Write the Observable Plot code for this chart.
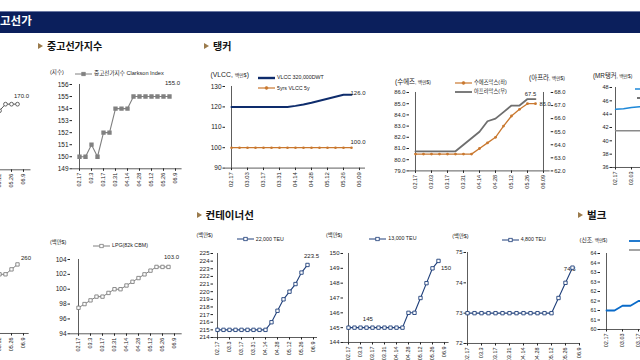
<!DOCTYPE html>
<html><head><meta charset="utf-8">
<script src="https://cdn.jsdelivr.net/npm/d3@7"></script>
<script src="https://cdn.jsdelivr.net/npm/@observablehq/plot@0.6"></script>
<style>
body{margin:0;background:#fff;}
#page{position:relative;width:640px;height:360px;overflow:hidden;background:#fff;font-family:"Liberation Sans",Arial,"Noto Sans CJK KR",sans-serif;color:#222;}
.abs{position:absolute;white-space:nowrap;line-height:1;}
#band{position:absolute;left:0;top:11px;width:640px;height:22px;background:#0b1f5c;border-top:1px solid #6c79a3;box-sizing:border-box;}
.h1{color:#fff;font-weight:bold;font-size:11.5px;font-family:"Noto Sans CJK KR",sans-serif;}
.sec{font-weight:bold;font-size:10px;font-family:"Noto Sans CJK KR",sans-serif;color:#111;display:flex;align-items:center;}
.tri{display:inline-block;width:0;height:0;border-left:5px solid #9b7b4c;border-top:3.5px solid transparent;border-bottom:3.5px solid transparent;margin-right:4px;}
.leg{position:absolute;white-space:nowrap;display:flex;align-items:center;line-height:1;font-family:"Liberation Sans",Arial,"Noto Sans CJK KR",sans-serif;}
.ttl{position:absolute;white-space:nowrap;line-height:1;font-family:"Liberation Sans",Arial,"Noto Sans CJK KR",sans-serif;}
</style></head>
<body>
<div id="page"><div id="band"></div></div>
<script>
// ---------- data ----------
const axisWeeks = ["02.17","02.24","03.03","03.10","03.17","03.24","03.31","04.07","04.14","04.21","04.28","05.05","05.12","05.19","05.26","06.02","06.09"];
const weeks = ["02.17","02.24","03.03","03.10","03.17","03.24","03.31","04.07","04.14","04.21","04.28","05.05","05.12","05.19","05.26","06.02"];
const tickWeeks = ["02.17","03.03","03.17","03.31","04.14","04.28","05.12","05.26","06.09"];
const tickShort = ["02.17","03.3","03.17","03.31","04.14","04.28","05.12","05.26","06.9"];
const tickLong  = ["02.17","03.03","03.17","03.31","04.14","04.28","05.12","05.26","06.09"];
const tickTail  = ["05.12","05.26","06.09"];   // visible part of the cut-off left charts
const tickMr    = ["02.17","03.03"];           // visible part of the MR chart
const tickBulk  = ["02.17","03.03","03.17"];   // visible part of the bulk chart

const newbuildIdx = [161,161,162,162,163,163,164,165,165,166,167,168,169,170,170,170];
const clarkson    = [150,150,151,150,152,152,154,154,154,155,155,155,155,155,155,155];
const vlcc320     = [120,120,120,120,120,120,120,120,120.5,121.2,122,123,124,125,126,126];
const vlcc5y      = [100,100,100,100,100,100,100,100,100,100,100,100,100,100,100,100];
const suezmax     = [80.5,80.5,80.5,80.5,80.5,80.5,80.5,80.5,81,81.5,82,83,83.9,84.5,85,85];
const aframax     = [63.5,63.5,63.5,63.5,63.5,63.5,64,64.5,65,65.8,66,66.5,67,67,67.5,67.5];
const mrBlue      = [44.75,44.8,45,45.1,45.2,45.3,45.5,45.8,46,46.3,46.5,46.8,47,47,47.2,47.5];
const mrGray      = [41.5,41.5,41.5,41.5,41.5,41.5,41.5,42,42,42.5,42.5,43,43,43.5,43.5,43.5];
const newbuildLng = [215,218,220,222,225,228,232,235,238,242,246,250,250,250,255,260];
const lpg         = [97.5,98,98.5,99,99,99.5,100,100,100.5,101,101.5,102,102.5,103,103,103];
const teu22000    = [215,215,215,215,215,215,215,215,215,216,217.5,219,220,221,222.5,223.5];
const teu13000    = [145,145,145,145,145,145,145,145,145,145,146,146,147,148,149,149.5];
const teu4800     = [73,73,73,73,73,73,73,73,73,73,73,73,73,73.5,74,74.5];
const bulkBlue    = [61,61,61.25,61.25,61.5,61.5,61.75,62,62,62.25,62.5,62.75,63,63.25,63.5,63.5];

const ticksClk   = [149,150,151,152,153,154,155,156];
const ticksVlcc  = [90,100,110,120,130];
const ticksSuez  = [79,80,81,82,83,84,85,86];
const ticksAfra  = [62,63,64,65,66,67,68];
const ticksMr    = [36,38,40,42,44,46,48];
const ticksLpg   = [94,96,98,100,102,104];
const ticks22k   = [214,215,216,217,218,219,220,221,222,223,224,225];
const ticks13k   = [144,145,146,147,148,149,150];
const ticks4800  = [72,73,74,75];
const ticksBulk  = [60,60.5,61,61.5,62,62.5,63,63.5,64];

const names = {
  clarkson: "중고선가지수 Clarkson Index",
  vlcc320: "VLCC 320,000DWT", vlcc5y: "5yrs VLCC 5y",
  suez: "수에즈막스(좌)", afra: "아프라막스(우)",
  lpg: "LPG(82k CBM)", t22: "22,000 TEU", t13: "13,000 TEU", t48: "4,800 TEU"
};

// ---------- helpers ----------
const page = document.getElementById("page");
const FONT = '"Liberation Sans", Arial, "Noto Sans CJK KR", sans-serif';
const rows = vals => vals.map((v, i) => ({w: weeks[i], v}));
const at = (vals, i, t) => [{w: weeks[i], v: vals[i], t}];

function chart(o) {
  const ml = 30, mr = 26, mt = 14, mb = 32;
  const width = (o.x1 - o.x0) + ml + mr, height = (o.y1 - o.y0) + mt + mb;
  const marks = [];
  if (o.xAxis !== false) {
    marks.push(Plot.axisX({ticks: o.ticks ?? tickWeeks, tickFormat: d => o.tickLabels[tickWeeks.indexOf(d)],
      tickRotate: -90, tickSize: 2.5, tickPadding: 1.5, fontSize: o.fx ?? 5.5, label: null}));
    marks.push(Plot.ruleY([o.yDomain[0]], {stroke: "#333", strokeWidth: 0.8}));
  }
  const right = o.anchor === "right";
  if (o.yAxis !== false) {
    marks.push(Plot.axisY({anchor: right ? "right" : "left", ticks: o.yTicks, tickFormat: o.yFmt ?? "d",
      tickSize: 2.5, tickPadding: 1.5, fontSize: o.fy ?? 6.5, label: null}));
    marks.push(Plot.ruleX([right ? axisWeeks[16] : axisWeeks[0]], {stroke: "#333", strokeWidth: 0.8}));
  }
  marks.push(...o.marks);
  const svg = Plot.plot({
    width, height, marginLeft: ml, marginRight: mr, marginTop: mt, marginBottom: mb,
    x: {type: "point", domain: axisWeeks, padding: 0, axis: o.xAxis === false ? null : undefined},
    y: {domain: o.yDomain, axis: o.yAxis === false ? null : undefined},
    style: {background: "transparent", overflow: "visible", fontFamily: FONT, color: "#222"},
    marks
  });
  svg.style.position = "absolute";
  svg.style.left = (o.x0 - ml) + "px";
  svg.style.top = (o.y0 - mt) + "px";
  page.appendChild(svg);
}
function heading(x, y, text, fs) {
  const d = document.createElement("div");
  d.className = "abs sec"; d.style.left = x + "px"; d.style.top = (y - 7) + "px"; d.style.height = "14px";
  if (fs) d.style.fontSize = fs + "px";
  d.innerHTML = `<span class="tri"></span><span>${text}</span>`;
  page.appendChild(d);
}
function title(x, y, html, fs) {
  const d = document.createElement("div");
  d.className = "ttl"; d.style.left = x + "px"; d.style.top = (y - fs / 2 - 1) + "px"; d.style.fontSize = fs + "px";
  d.innerHTML = html; page.appendChild(d);
}
function legend(x, y, o) {
  const d = document.createElement("div");
  const sw = o.sw || 17;
  d.className = "leg"; d.style.left = x + "px"; d.style.top = (y - 4) + "px"; d.style.height = "8px";
  d.style.fontSize = (o.fs || 5.5) + "px";
  let mk = "";
  if (o.marker === "square") mk = `<rect x="${sw/2-1.7}" y="2.3" width="3.4" height="3.4" fill="${o.mfill || o.color}" stroke="${o.color}" stroke-width="0.8"/>`;
  if (o.marker === "circle") mk = `<circle cx="${sw/2}" cy="4" r="1.4" fill="${o.mfill || o.color}" stroke="${o.color}" stroke-width="0.7"/>`;
  d.innerHTML = `<svg width="${sw}" height="8" style="flex:none"><line x1="0" x2="${sw}" y1="4" y2="4" stroke="${o.color}" stroke-width="${o.lw || 1}"/>${mk}</svg>` +
    (o.text ? `<span style="margin-left:2px">${o.text}</span>` : "");
  page.appendChild(d);
}

// ---------- colours ----------
const GRAY = "#808080", DGRAY = "#555", NAVY = "#0e2c6c", CNAVY = "#1f3f7a", ORANGE = "#c9782f",
      AGRAY = "#6e6e6e", BLUE = "#1e88d8", BBLUE = "#0a6bc9";

// ---------- header ----------
const h = document.createElement("div");
h.className = "abs h1"; h.style.left = "0px"; h.style.top = "15px"; h.textContent = "고선가";
page.appendChild(h);
heading(38, 45.5, "중고선가지수");
heading(204, 45.5, "탱커");
heading(196.5, 215, "컨테이너선", 10.5);
heading(578, 215, "벌크", 10.5);

// ---------- top row ----------
chart({x0: -80, x1: 30.5, y0: 84, y1: 169.3, yDomain: [160, 173], yAxis: false, ticks: tickTail, tickLabels: tickShort,
  marks: [
    Plot.line(rows(newbuildIdx), {x: "w", y: "v", stroke: DGRAY, strokeWidth: 1}),
    Plot.dot(rows(newbuildIdx), {x: "w", y: "v", r: 1.9, fill: "white", stroke: DGRAY, strokeWidth: 0.9}),
    Plot.text(at(newbuildIdx, 15, "170.0"), {x: "w", y: "v", text: "t", dx: 4, dy: -8, fontSize: 6})
  ]});

chart({x0: 71.7, x1: 181.3, y0: 84, y1: 168.3, yDomain: [149, 156], yTicks: ticksClk, tickLabels: tickShort, fy: 6.5,
  marks: [
    Plot.line(rows(clarkson), {x: "w", y: "v", stroke: GRAY, strokeWidth: 1.1}),
    Plot.dot(rows(clarkson), {x: "w", y: "v", symbol: "square", r: 1.6, fill: GRAY, stroke: GRAY}),
    Plot.text(at(clarkson, 15, "155.0"), {x: "w", y: "v", text: "t", dx: 3, dy: -13, fontSize: 6})
  ]});
title(50, 73.5, "(지수)", 5.5);
legend(75, 74, {color: GRAY, marker: "square", text: names.clarkson, fs: 5.6});

chart({x0: 225, x1: 365, y0: 85.7, y1: 167.3, yDomain: [90, 130], yTicks: ticksVlcc, tickLabels: tickLong, fx: 6,
  marks: [
    Plot.line(rows(vlcc5y), {x: "w", y: "v", stroke: ORANGE, strokeWidth: 1.2}),
    Plot.dot(rows(vlcc5y), {x: "w", y: "v", r: 1.3, fill: ORANGE}),
    Plot.line(rows(vlcc320), {x: "w", y: "v", stroke: NAVY, strokeWidth: 2}),
    Plot.text(at(vlcc320, 15, "126.0"), {x: "w", y: "v", text: "t", textAnchor: "start", dx: -1, dy: -1.5, fontSize: 6}),
    Plot.text(at(vlcc5y, 15, "100.0"), {x: "w", y: "v", text: "t", textAnchor: "start", dx: -1, dy: -6, fontSize: 6})
  ]});
title(210.5, 76.7, `(VLCC, <span style="font-size:5px">백만$</span>)`, 6.8);
legend(258, 77.5, {color: NAVY, lw: 2.4, text: names.vlcc320, fs: 5.3});
legend(258, 88.3, {color: ORANGE, lw: 1.2, marker: "circle", text: names.vlcc5y, fs: 5.3});

chart({x0: 409.3, x1: 550, y0: 92.3, y1: 170.7, yDomain: [79, 86], yTicks: ticksSuez, yFmt: ".1f", tickLabels: tickLong, fy: 5.8,
  marks: [
    Plot.line(rows(suezmax), {x: "w", y: "v", stroke: ORANGE, strokeWidth: 1.3}),
    Plot.dot(rows(suezmax), {x: "w", y: "v", r: 1.4, fill: ORANGE}),
    Plot.text(at(suezmax, 15, "85.0"), {x: "w", y: "v", text: "t", textAnchor: "start", dx: 4, dy: 0, fontSize: 5.8})
  ]});
chart({x0: 409.3, x1: 550, y0: 92.3, y1: 170.7, yDomain: [62, 68], yTicks: ticksAfra, yFmt: ".1f", anchor: "right", xAxis: false, fy: 5.8,
  marks: [
    Plot.line(rows(aframax), {x: "w", y: "v", stroke: AGRAY, strokeWidth: 1.8}),
    Plot.text(at(aframax, 15, "67.5"), {x: "w", y: "v", text: "t", dx: -5, dy: -4.5, fontSize: 5.8})
  ]});
title(395, 83.5, `(수에즈<span style="font-size:4.8px">, 백만$)</span>`, 6.5);
title(529, 79, `(아프라<span style="font-size:4.8px">, 백만$)</span>`, 6.5);
legend(455, 82.7, {color: ORANGE, lw: 1.2, marker: "circle", text: names.suez, fs: 5.3});
legend(455, 91.7, {color: AGRAY, lw: 1.8, text: names.afra, fs: 5.3});

chart({x0: 611.7, x1: 745, y0: 86.7, y1: 166.7, yDomain: [36, 48], yTicks: ticksMr, ticks: tickMr, tickLabels: tickLong, fy: 5.5,
  marks: [
    Plot.line(rows(mrGray), {x: "w", y: "v", stroke: "#8a8a8a", strokeWidth: 1.5}),
    Plot.line(rows(mrBlue), {x: "w", y: "v", stroke: BLUE, strokeWidth: 1.5})
  ]});
title(593, 77.5, `(MR탱커<span style="font-size:4.8px">, 백만$)</span>`, 6.3);
legend(635, 89, {color: BLUE, lw: 1.5, sw: 12});
legend(637, 98, {color: "#444", lw: 1.5, sw: 12});

// ---------- bottom row ----------
chart({x0: -78.4, x1: 28.3, y0: 259, y1: 333, yDomain: [190, 265], yAxis: false, ticks: tickTail, tickLabels: tickShort,
  marks: [
    Plot.line(rows(newbuildLng), {x: "w", y: "v", stroke: GRAY, strokeWidth: 1}),
    Plot.dot(rows(newbuildLng), {x: "w", y: "v", symbol: "square", r: 1.9, fill: "white", stroke: GRAY, strokeWidth: 0.9}),
    Plot.text(at(newbuildLng, 15, "260"), {x: "w", y: "v", text: "t", textAnchor: "start", dx: 3.5, dy: -6, fontSize: 6})
  ]});

chart({x0: 70, x1: 181.7, y0: 259, y1: 333.3, yDomain: [94, 104], yTicks: ticksLpg, tickLabels: tickShort,
  marks: [
    Plot.line(rows(lpg), {x: "w", y: "v", stroke: GRAY, strokeWidth: 1}),
    Plot.dot(rows(lpg), {x: "w", y: "v", symbol: "square", r: 1.9, fill: "white", stroke: GRAY, strokeWidth: 0.9}),
    Plot.text(at(lpg, 15, "103.0"), {x: "w", y: "v", text: "t", dx: 3, dy: -10, fontSize: 6})
  ]});
title(50, 243.5, "(백만$)", 5.3);
legend(93, 245.7, {color: GRAY, marker: "square", mfill: "white", text: names.lpg, fs: 5.3});

chart({x0: 212.7, x1: 316.7, y0: 252.7, y1: 336.7, yDomain: [214, 225], yTicks: ticks22k, tickLabels: tickShort, fy: 6,
  marks: [
    Plot.line(rows(teu22000), {x: "w", y: "v", stroke: CNAVY, strokeWidth: 1.1}),
    Plot.dot(rows(teu22000), {x: "w", y: "v", symbol: "square", r: 1.9, fill: "white", stroke: CNAVY, strokeWidth: 0.9}),
    Plot.text(at(teu22000, 15, "223.5"), {x: "w", y: "v", text: "t", textAnchor: "start", dx: -3.5, dy: -9, fontSize: 6})
  ]});
title(196.5, 236.5, "(백만$)", 5.3);
legend(236.7, 239.3, {color: CNAVY, marker: "square", mfill: "white", text: names.t22, fs: 5.3});

chart({x0: 342.7, x1: 448.3, y0: 252.7, y1: 341.7, yDomain: [144, 150], yTicks: ticks13k, tickLabels: tickShort, fy: 6,
  marks: [
    Plot.line(rows(teu13000), {x: "w", y: "v", stroke: CNAVY, strokeWidth: 1.1}),
    Plot.dot(rows(teu13000), {x: "w", y: "v", symbol: "square", r: 1.9, fill: "white", stroke: CNAVY, strokeWidth: 0.9}),
    Plot.text(at(teu13000, 3, "145"), {x: "w", y: "v", text: "t", dx: 1.3, dy: -8.5, fontSize: 6}),
    Plot.text(at(teu13000, 15, "150"), {x: "w", y: "v", text: "t", textAnchor: "start", dx: 2.5, dy: 7, fontSize: 6})
  ]});
title(326, 237, "(백만$)", 5.3);
legend(369.3, 239, {color: CNAVY, marker: "square", mfill: "white", text: names.t13, fs: 5.3});

chart({x0: 466, x1: 579.3, y0: 251.7, y1: 342.7, yDomain: [72, 75], yTicks: ticks4800, tickLabels: tickShort, fy: 6,
  marks: [
    Plot.line(rows(teu4800), {x: "w", y: "v", stroke: CNAVY, strokeWidth: 1.1}),
    Plot.text(at(teu4800, 15, "74.5"), {x: "w", y: "v", text: "t", textAnchor: "end", dx: 3, dy: 1.5, fontSize: 6}),
    Plot.dot(rows(teu4800), {x: "w", y: "v", symbol: "square", r: 1.9, fill: "white", stroke: CNAVY, strokeWidth: 0.9})
  ]});
title(452.3, 237.5, "(백만$)", 5.3);
legend(501.7, 239.7, {color: CNAVY, marker: "square", mfill: "white", text: names.t48, fs: 5.3});

chart({x0: 600, x1: 740, y0: 253.3, y1: 329.3, yDomain: [60, 64], yTicks: ticksBulk, yFmt: ".0f", ticks: tickBulk, tickLabels: tickLong, fy: 5.3,
  marks: [
    Plot.line(rows(bulkBlue), {x: "w", y: "v", stroke: BBLUE, strokeWidth: 1.8})
  ]});
title(579.5, 241.7, `(신조<span style="font-size:4.6px">, 백만$)</span>`, 5.8);
legend(629, 241, {color: BBLUE, lw: 1.8, sw: 14});
legend(629, 250, {color: "#9a9a9a", lw: 1.8, sw: 14});
</script>
</body></html>
